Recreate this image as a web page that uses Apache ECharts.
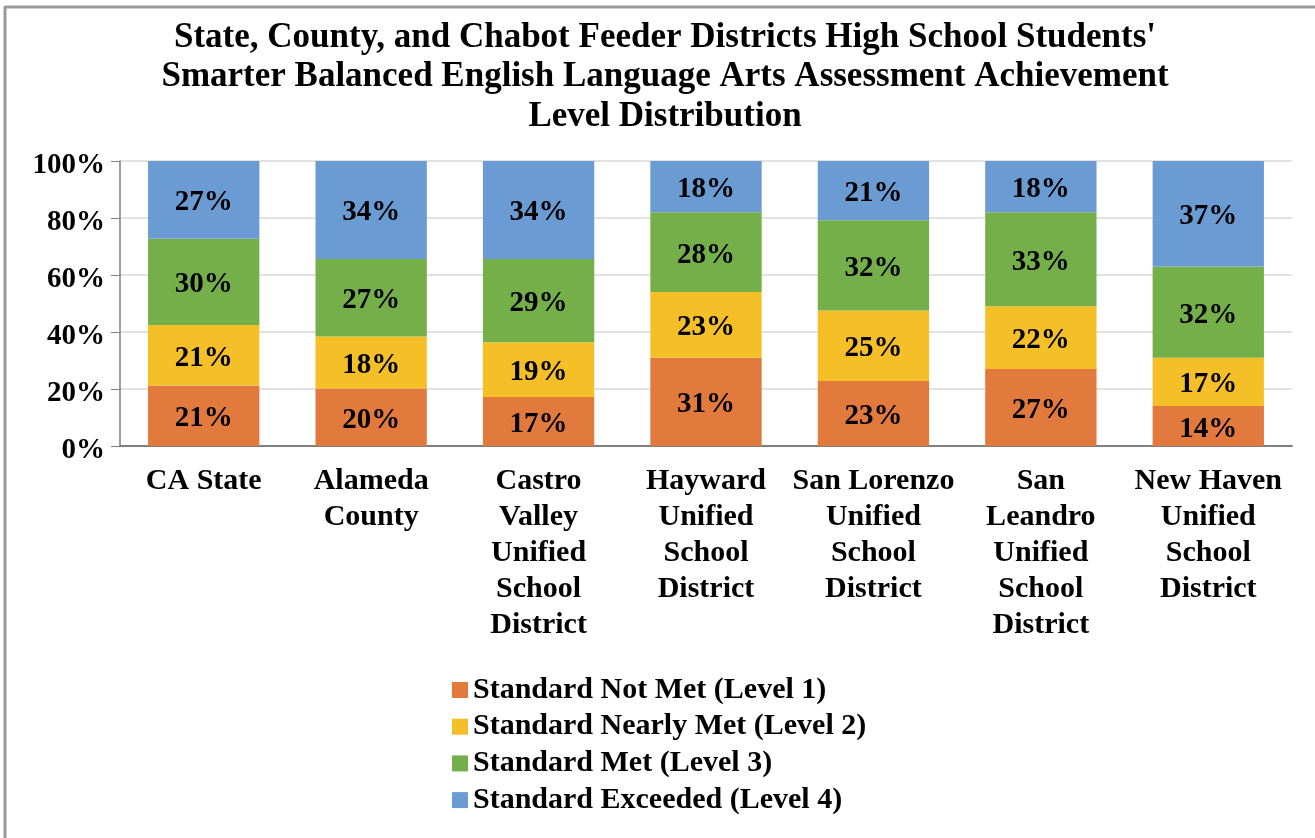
<!DOCTYPE html>
<html>
<head>
<meta charset="utf-8">
<script src="https://cdn.jsdelivr.net/npm/echarts@6/dist/echarts.min.js"></script>
<style>
html,body{margin:0;padding:0;background:#fff;}
#chart{width:1315px;height:838px;}
</style>
</head>
<body>
<div id="chart"></div>
<script>
const categories = [
  'CA State',
  'Alameda\nCounty',
  'Castro\nValley\nUnified\nSchool\nDistrict',
  'Hayward\nUnified\nSchool\nDistrict',
  'San Lorenzo\nUnified\nSchool\nDistrict',
  'San\nLeandro\nUnified\nSchool\nDistrict',
  'New Haven\nUnified\nSchool\nDistrict'
];
const seriesNames = [
  'Standard Not Met (Level 1)',
  'Standard Nearly Met (Level 2)',
  'Standard Met (Level 3)',
  'Standard Exceeded (Level 4)'
];
const level1 = [21, 20, 17, 31, 23, 27, 14];
const level2 = [21, 18, 19, 23, 25, 22, 17];
const level3 = [30, 27, 29, 28, 32, 33, 32];
const level4 = [27, 34, 34, 18, 21, 18, 37];
const yTicks = [0, 20, 40, 60, 80, 100];

const colors = ['#E27A3D', '#F5BF28', '#75AF4A', '#6A9BD3'];
const levels = [level1, level2, level3, level4];
const totals = categories.map((_, i) => levels.reduce((s, arr) => s + arr[i], 0));

const font = '"Liberation Serif", "Times New Roman", serif';

const series = levels.map((arr, k) => ({
  name: seriesNames[k],
  type: 'bar',
  stack: 'total',
  barWidth: '66.5%',
  itemStyle: { color: colors[k] },
  label: {
    show: true,
    position: 'inside',
    offset: [0, 3],
    fontFamily: font,
    fontWeight: 'bold',
    fontSize: 29,
    color: '#000',
    formatter: p => p.data.raw + '%'
  },
  data: arr.map((v, i) => ({ value: v / totals[i] * 100, raw: v }))
}));

const chart = echarts.init(document.getElementById('chart'), null, { renderer: 'canvas' });
chart.setOption({
  animation: false,
  backgroundColor: '#fff',
  title: {
    text: "State, County, and Chabot Feeder Districts High School Students'\nSmarter Balanced English Language Arts Assessment Achievement\nLevel Distribution",
    left: 660,
    textAlign: 'center',
    top: 13,
    textStyle: {
      fontFamily: font,
      fontWeight: 'bold',
      fontSize: 35,
      lineHeight: 39.5,
      color: '#000'
    }
  },
  graphic: [
    { type: 'line', shape: { x1: 5, y1: 7, x2: 1315, y2: 7 }, style: { stroke: '#9a9a9a', lineWidth: 3 } },
    { type: 'line', shape: { x1: 5, y1: 6, x2: 5, y2: 838 }, style: { stroke: '#9a9a9a', lineWidth: 3 } }
  ],
  legend: {
    orient: 'vertical',
    left: 452,
    top: 675,
    padding: 0,
    icon: 'rect',
    itemWidth: 16,
    itemHeight: 16,
    itemGap: 6.7,
    textStyle: {
      fontFamily: font,
      fontWeight: 'bold',
      fontSize: 30,
      lineHeight: 30,
      color: '#000'
    },
    data: seriesNames
  },
  grid: { left: 120, right: 23, top: 161, bottom: 392, containLabel: false },
  xAxis: {
    type: 'category',
    data: categories,
    axisTick: { show: false },
    axisLine: { lineStyle: { color: '#7f7f7f', width: 2 } },
    axisLabel: {
      interval: 0,
      margin: 17,
      fontFamily: font,
      fontWeight: 'bold',
      fontSize: 30,
      lineHeight: 36,
      color: '#000'
    }
  },
  yAxis: {
    type: 'value',
    min: yTicks[0],
    max: yTicks[yTicks.length - 1],
    interval: 20,
    axisLine: { show: true, lineStyle: { color: '#7f7f7f', width: 1.5 } },
    axisTick: { show: true, length: 9, lineStyle: { color: '#7f7f7f' } },
    splitLine: { lineStyle: { color: '#d9d9d9', width: 1.5 } },
    axisLabel: {
      margin: 15,
      verticalAlign: 'top',
      lineHeight: 9,
      fontFamily: font,
      fontWeight: 'bold',
      fontSize: 29,
      color: '#000',
      formatter: '{value}%'
    }
  },
  series: series
});
</script>
</body>
</html>
